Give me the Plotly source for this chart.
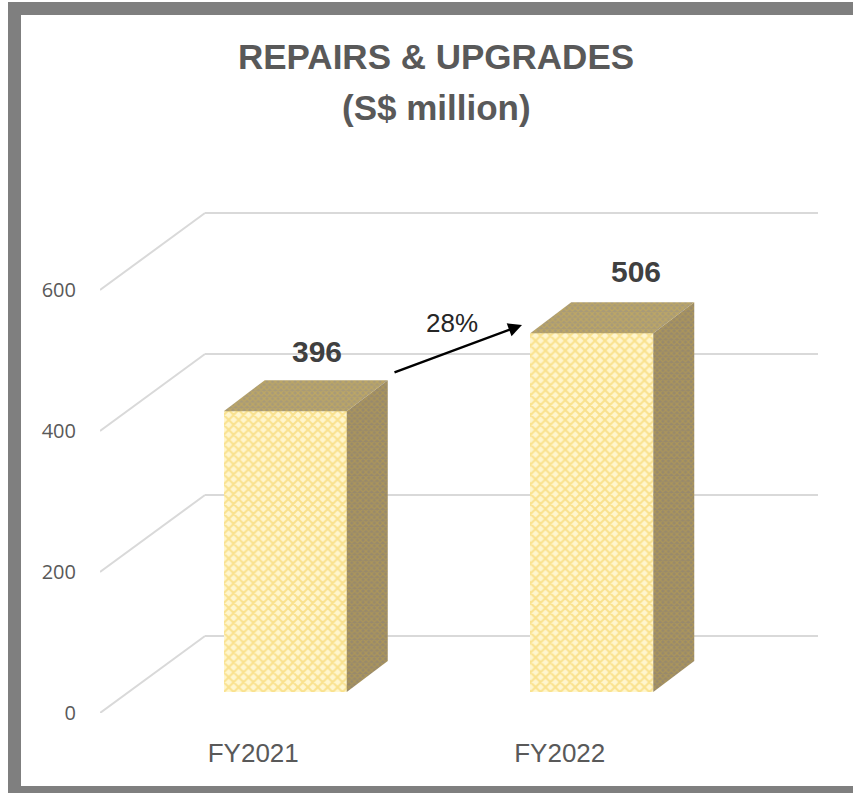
import plotly.graph_objects as go

categories = ["FY2021", "FY2022"]
values = [396, 506]
y_ticks = [0, 200, 400, 600]
title_lines = ["REPAIRS &amp; UPGRADES", "(S$ million)"]
growth_label = "28%"
# where the value labels sit relative to their bars, in pixels
label_offset_x = [32, 44.5]
label_offset_y = [60, 62]

W, H = 853, 793
L, R, T, B = 100, 818, 212, 713
CAT_PX, VAL_PX = 306.5, 0.705
x_range = [-0.5, (R - L) / CAT_PX - 0.5]
y_range = [0, (B - T) / VAL_PX]


def dx(px):
    return px / CAT_PX


def dy(px):
    return px / VAL_PX


def xp(px):
    return (px - L) / CAT_PX - 0.5


def yp(py):
    return (B - py) / VAL_PX


# oblique-projection settings of the 3-D chart
WALL_DX, WALL_DY = dx(105), dy(77)
BAR_SHIFT_X, BAR_BASE = dx(32), dy(21)
BAR_W = dx(123)
DEPTH_X, DEPTH_Y = dx(41), dy(31)
BAR_SCALE = 1.006

GRID = "#D9D9D9"
TEXT = "#595959"
SANS = "Liberation Sans, Arial, sans-serif"

fig = go.Figure()

centers = [i + BAR_SHIFT_X for i in range(len(values))]
heights = [v * BAR_SCALE for v in values]

fig.add_trace(go.Bar(
    x=centers, y=heights, base=[BAR_BASE] * len(values), width=BAR_W,
    marker=dict(color="#FFF3BE", line=dict(width=0),
                pattern=dict(shape="x", fgcolor="#F4CC4C", bgcolor="#FFF6CE", size=7, solidity=0.5)),
    showlegend=False, hoverinfo="skip",
))

for c, h in zip(centers, heights):
    x0, x1 = c - BAR_W / 2, c + BAR_W / 2
    top = BAR_BASE + h
    fig.add_trace(go.Scatter(
        x=[x0, x1, x1 + DEPTH_X, x0 + DEPTH_X, x0],
        y=[top, top, top + DEPTH_Y, top + DEPTH_Y, top],
        mode="lines", line=dict(width=0), fill="toself", fillcolor="#B8A368",
        fillpattern=dict(shape="x", fgcolor="#D2B450", bgcolor="#A89A78", size=4, solidity=0.5),
        showlegend=False, hoverinfo="skip",
    ))
    fig.add_trace(go.Scatter(
        x=[x1, x1 + DEPTH_X, x1 + DEPTH_X, x1, x1],
        y=[top, top + DEPTH_Y, BAR_BASE + DEPTH_Y, BAR_BASE, top],
        mode="lines", line=dict(width=0), fill="toself", fillcolor="#A8965F",
        fillpattern=dict(shape="x", fgcolor="#BFA348", bgcolor="#98896C", size=4, solidity=0.5),
        showlegend=False, hoverinfo="skip",
    ))

shapes = []
for t in y_ticks:
    shapes.append(dict(type="line", xref="x", yref="y", layer="below",
                       x0=-0.5, y0=t, x1=-0.5 + WALL_DX, y1=t + WALL_DY,
                       line=dict(color=GRID, width=2)))
    shapes.append(dict(type="line", xref="x", yref="y", layer="below",
                       x0=-0.5 + WALL_DX, y0=t + WALL_DY, x1=x_range[1], y1=t + WALL_DY,
                       line=dict(color=GRID, width=2)))
# outer frame of the picture
shapes.append(dict(type="rect", xref="paper", yref="paper", layer="below",
                   x0=(14.5 - L) / (R - L), x1=(870 - L) / (R - L),
                   y0=(B - 792.5) / (B - T), y1=(B - 8.5) / (B - T),
                   line=dict(color="#7F7F7F", width=13), fillcolor="rgba(0,0,0,0)"))

annotations = []
for i, line in enumerate(title_lines):
    annotations.append(dict(text=f"<b>{line}</b>", xref="paper", yref="paper", showarrow=False,
                            x=(436 - L) / (R - L), y=(B - (56 + 51 * i)) / (B - T),
                            xanchor="center", yanchor="middle",
                            font=dict(family=SANS, size=35, color=TEXT)))
for c, h, v, ox, oy in zip(centers, heights, values, label_offset_x, label_offset_y):
    annotations.append(dict(text=f"<b>{v}</b>", x=c + dx(ox), y=BAR_BASE + h + dy(oy),
                            xref="x", yref="y", showarrow=False, xanchor="center", yanchor="middle",
                            font=dict(family=SANS, size=30, color="#404040")))
annotations.append(dict(text=growth_label, x=xp(452), y=yp(323), xref="x", yref="y", showarrow=False,
                        xanchor="center", yanchor="middle",
                        font=dict(family=SANS, size=26, color="#262626")))
annotations.append(dict(text="", x=xp(522), y=yp(325), ax=xp(393), ay=yp(373),
                        xref="x", yref="y", axref="x", ayref="y", showarrow=True,
                        arrowhead=2, arrowsize=1.1, arrowwidth=2.5, arrowcolor="#000000"))

fig.update_layout(
    width=W, height=H, margin=dict(l=L, r=W - R, t=T, b=H - B),
    paper_bgcolor="white", plot_bgcolor="rgba(0,0,0,0)",
    showlegend=False, shapes=shapes, annotations=annotations, bargap=0,
    xaxis=dict(range=x_range, tickmode="array", tickvals=list(range(len(categories))),
               ticktext=categories, showgrid=False, zeroline=False, showline=False,
               ticks="outside", ticklen=17, tickcolor="rgba(0,0,0,0)",
               tickfont=dict(family=SANS, size=26, color=TEXT)),
    yaxis=dict(range=y_range, tickmode="array", tickvals=y_ticks, showgrid=False,
               zeroline=False, showline=False, ticks="outside", ticklen=19,
               tickcolor="rgba(0,0,0,0)",
               tickfont=dict(family="Open Sans, sans-serif", size=20, color=TEXT)),
)

fig.write_html("out.html", config=dict(displayModeBar=False),
               post_script="document.body.style.margin='0';document.body.style.overflow='hidden';")
